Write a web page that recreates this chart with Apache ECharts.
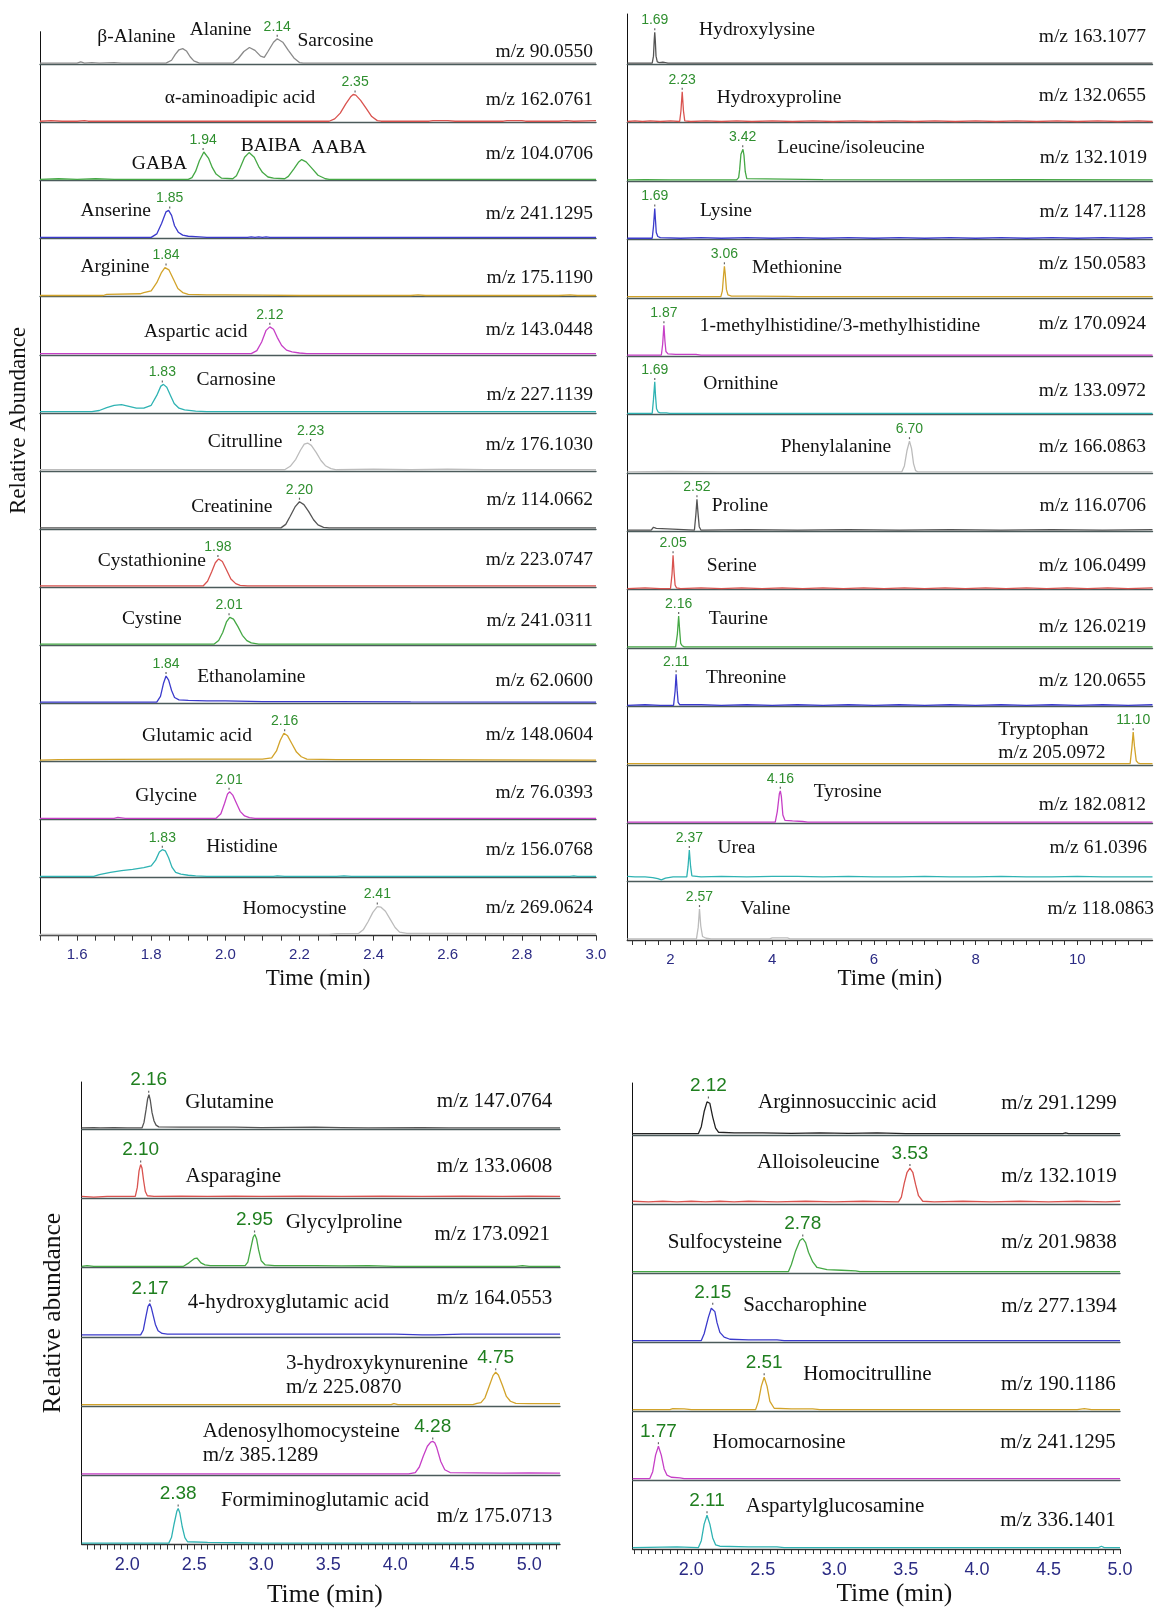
<!DOCTYPE html>
<html><head><meta charset="utf-8">
<script src="https://cdn.jsdelivr.net/npm/echarts@6/dist/echarts.min.js"></script>
<style>html,body{margin:0;padding:0;background:#fff}#c{width:1157px;height:1609px}</style>
</head><body><div id="c"></div>
<script>
// ================= DATA =================
// ---- Panel A (time 1.5 - 3.0 min) ----
const namesA = [['β-Alanine','Alanine','Sarcosine'],['α-aminoadipic acid'],['GABA','BAIBA','AABA'],['Anserine'],['Arginine'],['Aspartic acid'],['Carnosine'],['Citrulline'],['Creatinine'],['Cystathionine'],['Cystine'],['Ethanolamine'],['Glutamic acid'],['Glycine'],['Histidine'],['Homocystine']];
const mzA = ['m/z 90.0550','m/z 162.0761','m/z 104.0706','m/z 241.1295','m/z 175.1190','m/z 143.0448','m/z 227.1139','m/z 176.1030','m/z 114.0662','m/z 223.0747','m/z 241.0311','m/z 62.0600','m/z 148.0604','m/z 76.0393','m/z 156.0768','m/z 269.0624'];
const rtA = [[2.14],[2.35],[1.94],[1.85],[1.84],[2.12],[1.83],[2.23],[2.20],[1.98],[2.01],[1.84],[2.16],[2.01],[1.83],[2.41]];
const tracesA = [
 [[1.5,0],[1.6,0],[1.61,2],[1.62,0],[1.64,1],[1.66,0],[1.7,1],[1.72,0],[1.84,0],[1.855,5],[1.865,15],[1.875,23],[1.885,25],[1.895,21],[1.905,11],[1.915,4],[1.93,0],[2.02,0],[2.035,8],[2.05,20],[2.065,27],[2.08,22],[2.095,12],[2.105,10],[2.115,20],[2.13,36],[2.14,42],[2.155,36],[2.17,22],[2.185,9],[2.2,1],[2.21,0],[3.0,0]],
 [[1.5,0],[1.53,1],[1.56,0],[1.6,0],[1.62,1],[1.63,0],[2.28,0],[2.295,4],[2.31,14],[2.325,30],[2.338,42],[2.345,46],[2.352,45],[2.365,36],[2.38,22],[2.395,8],[2.41,1],[2.42,0],[2.55,0],[2.56,1],[2.6,1],[2.62,0],[2.75,0],[2.76,1],[2.8,1],[2.81,0],[2.9,0],[2.92,1],[2.94,0],[3.0,1]],
 [[1.5,0],[1.55,1],[1.6,0],[1.65,1],[1.7,0],[1.9,0],[1.91,3],[1.92,14],[1.93,32],[1.942,47],[1.955,36],[1.965,20],[1.975,9],[1.99,2],[2.02,1],[2.03,6],[2.04,20],[2.052,38],[2.064,46],[2.078,38],[2.09,22],[2.1,12],[2.115,4],[2.13,2],[2.16,1],[2.17,5],[2.185,18],[2.198,30],[2.206,34],[2.218,30],[2.235,18],[2.25,7],[2.27,1],[2.28,0],[3.0,0]],
 [[1.5,0],[1.8,0],[1.815,6],[1.828,24],[1.84,44],[1.847,46.5],[1.855,38],[1.863,20],[1.873,9],[1.885,4],[1.9,2],[1.93,1],[1.95,0],[2.06,0],[2.07,1],[2.08,0],[2.09,1],[2.1,0],[2.11,1],[2.12,0],[3.0,0]],
 [[1.5,0],[1.67,0],[1.68,2],[1.77,3],[1.78,5],[1.8,8],[1.815,22],[1.828,40],[1.837,48],[1.848,44],[1.86,28],[1.872,12],[1.885,5],[1.9,2],[1.95,1],[2.0,1],[2.1,0.5],[2.2,0],[2.5,0],[2.52,1],[2.54,0],[2.9,0],[2.93,1],[2.95,0],[3.0,0]],
 [[1.5,0],[2.07,0],[2.085,5],[2.098,20],[2.11,40],[2.12,46],[2.13,42],[2.14,28],[2.152,14],[2.165,6],[2.18,3],[2.2,1],[2.22,0],[3.0,0]],
 [[1.5,0],[1.64,0],[1.66,2],[1.68,7],[1.70,11],[1.72,12],[1.74,9],[1.76,6],[1.78,6],[1.8,11],[1.815,28],[1.826,44],[1.833,47],[1.842,42],[1.852,28],[1.862,14],[1.875,6],[1.89,3],[1.92,1],[1.95,0],[3.0,0]],
 [[1.5,0],[2.16,0],[2.175,6],[2.19,18],[2.203,34],[2.213,44],[2.222,46],[2.232,42],[2.245,30],[2.258,16],[2.27,7],[2.285,2],[2.3,0],[2.4,1],[2.5,0],[2.6,1],[2.7,0],[3.0,0]],
 [[1.5,0],[2.15,0],[2.163,6],[2.175,20],[2.188,36],[2.2,45],[2.212,40],[2.225,28],[2.238,14],[2.25,5],[2.265,1],[2.28,0],[3.0,0]],
 [[1.5,0],[1.94,0],[1.952,8],[1.963,24],[1.973,40],[1.982,46.5],[1.992,42],[2.003,28],[2.015,12],[2.028,4],[2.04,1],[2.06,0],[3.0,0]],
 [[1.5,0],[1.97,0],[1.982,6],[1.993,20],[2.003,38],[2.012,46],[2.022,43],[2.034,30],[2.046,15],[2.058,6],[2.07,2],[2.09,0],[3.0,0]],
 [[1.5,0],[1.815,0],[1.825,10],[1.833,32],[1.84,45],[1.847,38],[1.855,20],[1.863,8],[1.875,4],[1.9,3],[1.95,2],[2.0,2],[2.1,1],[2.3,1],[2.5,0.5],[3.0,0]],
 [[1.5,0],[1.55,1],[1.7,1.5],[1.9,2],[2.0,2],[2.1,2],[2.125,4],[2.138,16],[2.148,34],[2.158,46.5],[2.168,42],[2.18,28],[2.192,14],[2.205,6],[2.22,2],[2.3,1],[2.5,1],[2.7,0.5],[3.0,0]],
 [[1.5,0],[1.7,0],[1.71,1.5],[1.73,0],[1.975,0],[1.988,8],[1.998,26],[2.006,42],[2.012,45.6],[2.02,40],[2.03,26],[2.04,12],[2.052,4],[2.065,1],[2.08,0],[3.0,0]],
 [[1.5,0],[1.645,0],[1.66,3],[1.69,7],[1.72,10],[1.75,12],[1.78,15],[1.8,18],[1.812,28],[1.822,42],[1.83,46],[1.838,44],[1.847,32],[1.856,16],[1.866,7],[1.88,4],[1.9,2],[1.92,1],[1.95,0],[2.13,0],[2.14,1],[2.16,0],[2.3,0],[2.32,1],[2.34,0],[2.93,0],[2.94,1],[2.95,0],[3.0,0]],
 [[1.5,0],[2.28,0],[2.3,1.5],[2.36,2],[2.372,8],[2.385,22],[2.398,38],[2.41,48],[2.42,47],[2.432,40],[2.445,26],[2.458,12],[2.47,4],[2.49,2],[2.6,2],[2.8,1.5],[3.0,1]]
];
const ticksA = [1.6,1.8,2.0,2.2,2.4,2.6,2.8,3.0];

// ---- Panel B (time 1.15 - 11.48 min) ----
const namesB = [['Hydroxylysine'],['Hydroxyproline'],['Leucine/isoleucine'],['Lysine'],['Methionine'],['1-methylhistidine/3-methylhistidine'],['Ornithine'],['Phenylalanine'],['Proline'],['Serine'],['Taurine'],['Threonine'],['Tryptophan'],['Tyrosine'],['Urea'],['Valine']];
const mzB = ['m/z 163.1077','m/z 132.0655','m/z 132.1019','m/z 147.1128','m/z 150.0583','m/z 170.0924','m/z 133.0972','m/z 166.0863','m/z 116.0706','m/z 106.0499','m/z 126.0219','m/z 120.0655','m/z 205.0972','m/z 182.0812','m/z 61.0396','m/z 118.0863'];
const rtB = [[1.69],[2.23],[3.42],[1.69],[3.06],[1.87],[1.69],[6.70],[2.52],[2.05],[2.16],[2.11],[11.10],[4.16],[2.37],[2.57]];
const tracesB = [
 [[1.15,0],[1.64,0],[1.665,12],[1.68,40],[1.69,53],[1.7,40],[1.715,12],[1.74,2],[1.78,1],[1.85,1.5],[1.9,1],[1.95,0],[11.48,0]],
 [[1.15,0],[1.3,1],[1.45,0],[1.6,1],[1.8,0],[2.0,1],[2.18,0],[2.205,18],[2.23,51],[2.255,18],[2.28,1],[2.4,0],[2.7,1],[3.0,0],[3.3,1],[3.6,0],[4.0,1],[4.4,0],[4.8,1],[5.2,0],[5.6,1],[6.0,0],[6.4,1],[6.8,0],[7.2,1],[7.6,0],[8.0,1],[8.4,0],[8.8,1],[9.2,0],[9.6,1],[10.0,0],[10.4,1],[10.8,0],[11.2,1],[11.48,0]],
 [[1.15,0],[1.5,0.5],[2.0,0],[3.3,0],[3.34,4],[3.36,18],[3.385,44],[3.405,42],[3.425,52.5],[3.445,42],[3.47,14],[3.5,2],[3.53,0],[5,0.5],[7,0],[9,0.5],[11.48,0]],
 [[1.15,0],[1.64,0],[1.665,20],[1.69,51],[1.705,30],[1.72,10],[1.75,3],[1.8,1],[2.2,0],[2.6,1],[3.0,0],[3.5,1],[4.0,0],[4.5,1],[5.0,0],[5.5,1],[6.0,0],[6.5,1],[7.0,0],[7.5,1],[8.0,0],[8.5,1],[9.0,0],[9.5,1],[10.0,0],[10.5,1],[11.0,0],[11.48,1]],
 [[1.15,0],[2.99,0],[3.02,10],[3.045,38],[3.06,52],[3.075,40],[3.1,12],[3.13,3],[3.2,1],[3.6,1],[4.3,0.5],[4.5,0],[11.48,0]],
 [[1.15,0],[1.82,0],[1.845,18],[1.87,51],[1.89,24],[1.91,6],[1.95,2],[2.1,1],[2.5,1],[2.6,0],[10.5,0],[10.52,1.5],[10.54,0],[11.48,0]],
 [[1.15,0],[1.64,0],[1.665,24],[1.69,54],[1.705,30],[1.725,8],[1.76,2],[1.8,1],[1.92,1],[1.95,2],[1.98,0],[11.48,0]],
 [[1.15,0],[2,0.5],[3,0],[6.55,0],[6.6,10],[6.65,36],[6.7,52.5],[6.74,40],[6.78,14],[6.82,2],[6.86,0],[11.48,0]],
 [[1.15,0],[1.62,0],[1.665,5],[1.69,7],[1.72,3],[1.75,0],[2.47,0],[2.5,28],[2.52,53],[2.54,30],[2.565,6],[2.6,0],[3.5,1],[4.5,0],[5.5,1],[6.5,0],[7.5,1],[8.5,0],[9.5,1],[10.5,0],[11.48,1]],
 [[1.15,0],[1.5,1],[1.8,0],[2.0,0],[2.03,25],[2.05,57],[2.07,28],[2.09,6],[2.12,1],[2.2,0],[2.6,1],[3.0,0],[3.4,1],[3.8,0],[4.2,1],[4.6,0],[5.0,1],[5.4,0],[5.8,1],[6.2,0],[6.6,1],[7.0,0],[7.4,1],[7.8,0],[8.2,1],[8.6,0],[9.0,1],[9.4,0],[9.8,1],[10.2,0],[10.6,1],[11.0,0],[11.48,1]],
 [[1.15,0],[2.1,0],[2.135,22],[2.16,53],[2.18,28],[2.2,6],[2.23,2],[2.27,0],[11.48,0]],
 [[1.15,0],[1.5,1],[1.8,0],[2.06,0],[2.09,24],[2.11,53],[2.13,26],[2.15,5],[2.18,1],[2.6,1],[3.0,0],[3.5,1],[4.0,0],[4.5,1],[5.0,0],[5.5,1],[6.0,0],[6.5,1],[7.0,0],[7.5,1],[8.0,0],[8.5,1],[9.0,0],[9.5,1],[10.0,0],[10.5,1],[11.0,0],[11.48,1]],
 [[1.15,0],[11.04,0],[11.075,28],[11.1,54],[11.125,30],[11.16,5],[11.2,1],[11.24,0],[11.48,0]],
 [[1.15,0],[4.06,0],[4.1,18],[4.14,48],[4.16,53.5],[4.18,44],[4.21,12],[4.25,3],[4.4,2],[4.6,1],[4.7,0],[11.48,0]],
 [[1.15,7],[1.3,6],[1.5,6],[1.65,5],[1.75,3],[1.82,1],[1.9,4],[2.05,6],[2.2,6],[2.32,6],[2.345,24],[2.37,52],[2.395,24],[2.42,8],[2.45,7],[2.6,6],[3.0,7],[3.5,6],[4.0,7],[4.5,7],[5.0,6],[5.5,7],[6.0,6],[6.5,6],[7.0,7],[7.5,6],[8.0,6],[8.5,7],[9.0,6],[9.5,6],[10.0,7],[10.5,6],[11.0,6],[11.48,6]],
 [[1.15,0],[2.51,0],[2.545,20],[2.57,51],[2.595,22],[2.63,4],[2.7,1],[2.8,0],[3.95,0],[4.0,1.5],[4.3,1.5],[4.35,0],[11.48,0]]
];
const ticksB = [2,4,6,8,10];

// ---- Panel C (time 1.66 - 5.23 min) ----
const namesC = [['Glutamine'],['Asparagine'],['Glycylproline'],['4-hydroxyglutamic acid'],['3-hydroxykynurenine'],['Adenosylhomocysteine'],['Formiminoglutamic acid']];
const mzC = ['m/z 147.0764','m/z 133.0608','m/z 173.0921','m/z 164.0553','m/z 225.0870','m/z 385.1289','m/z 175.0713'];
const rtC = [[2.16],[2.10],[2.95],[2.17],[4.75],[4.28],[2.38]];
const tracesC = [
 [[1.66,0],[1.75,0.5],[1.8,0],[1.9,0.5],[2.0,0],[2.11,0],[2.125,8],[2.14,26],[2.152,42],[2.162,48],[2.172,40],[2.185,22],[2.2,10],[2.215,4],[2.235,1.5],[2.4,1],[2.6,1],[2.8,1],[3.0,0.5],[3.4,1],[3.6,0.5],[3.8,0],[4.2,0.5],[4.4,0],[5.23,0]],
 [[1.66,1],[1.75,0],[1.85,1],[1.95,1],[2.06,1],[2.075,14],[2.088,38],[2.1,47],[2.11,42],[2.122,24],[2.135,8],[2.15,2],[2.2,1],[2.4,1.5],[2.6,1],[2.8,1.5],[3.0,1],[3.3,1.5],[3.6,1],[3.9,1.5],[4.2,1],[4.5,1.5],[4.8,1],[5.0,1.5],[5.23,1]],
 [[1.66,0],[1.7,1],[1.75,0],[2.42,0],[2.46,5],[2.5,11],[2.52,12],[2.55,5],[2.58,2],[2.62,1],[2.88,1],[2.9,6],[2.92,24],[2.94,42],[2.952,46],[2.965,40],[2.98,24],[3.0,8],[3.03,2],[3.1,1],[3.4,1],[3.6,0.5],[3.8,1],[4.0,0],[4.9,0],[4.95,1],[5.0,0],[5.23,0]],
 [[1.66,1],[1.8,1],[2.0,1],[2.1,1],[2.12,8],[2.14,28],[2.155,42],[2.168,46],[2.18,40],[2.195,28],[2.21,16],[2.23,7],[2.26,3],[2.3,2],[2.5,2],[3.0,2],[3.5,2],[4.0,2],[4.2,1],[4.3,1],[4.5,2],[5.0,2],[5.23,2]],
 [[1.66,0],[3.97,0],[3.99,1.5],[4.02,0],[4.58,0],[4.61,2],[4.64,3],[4.67,10],[4.7,26],[4.73,42],[4.75,47],[4.77,43],[4.8,28],[4.83,12],[4.86,5],[4.9,2],[5.0,1.5],[5.23,1.5]],
 [[1.66,0],[4.1,0],[4.15,2],[4.18,10],[4.21,26],[4.24,40],[4.265,46],[4.28,47],[4.295,45],[4.31,38],[4.34,18],[4.37,6],[4.41,2],[4.6,1.5],[4.8,1],[5.0,1.5],[5.23,1]],
 [[1.66,0],[2.31,0],[2.33,8],[2.35,28],[2.37,46],[2.38,50],[2.392,44],[2.41,24],[2.43,8],[2.45,2],[2.6,1],[2.8,0.5],[3.0,0],[5.23,0]]
];
const ticksC = [2.0,2.5,3.0,3.5,4.0,4.5,5.0];

// ---- Panel D (time 1.59 - 5.0 min) ----
const namesD = [['Arginnosuccinic acid'],['Alloisoleucine'],['Sulfocysteine'],['Saccharophine'],['Homocitrulline'],['Homocarnosine'],['Aspartylglucosamine']];
const mzD = ['m/z 291.1299','m/z 132.1019','m/z 201.9838','m/z 277.1394','m/z 190.1186','m/z 241.1295','m/z 336.1401'];
const rtD = [[2.12],[3.53],[2.78],[2.15],[2.51],[1.77],[2.11]];
const tracesD = [
 [[1.59,0],[2.05,0],[2.07,10],[2.09,32],[2.11,46],[2.12,48],[2.13,44],[2.15,24],[2.17,8],[2.19,2],[2.3,1],[2.5,1],[2.7,0.5],[2.9,1],[3.1,0.5],[3.3,1],[3.5,0],[4.6,0],[4.62,1],[4.64,0],[5.0,0]],
 [[1.59,2],[1.7,1],[1.8,2],[1.9,1],[2.0,2],[2.1,1],[2.2,2],[2.3,1],[2.4,2],[2.6,1],[2.8,2],[3.0,1],[3.2,2],[3.45,1],[3.47,8],[3.49,28],[3.51,44],[3.53,50],[3.55,44],[3.57,26],[3.59,10],[3.62,2],[3.7,1],[3.9,2],[4.1,1],[4.3,2],[4.5,1],[4.7,2],[4.9,1],[5.0,2]],
 [[1.59,0],[2.68,0],[2.7,10],[2.73,30],[2.76,45],[2.78,48],[2.8,42],[2.82,28],[2.85,14],[2.88,6],[2.95,3],[3.05,2],[3.15,1],[3.18,0],[5.0,0]],
 [[1.59,0],[2.07,0],[2.09,10],[2.12,34],[2.14,47],[2.15,49],[2.165,42],[2.18,26],[2.2,12],[2.23,5],[2.27,2],[2.4,1],[2.6,1],[2.65,0],[5.0,0]],
 [[1.59,0],[1.85,0],[1.87,1.5],[1.95,1],[2.0,0],[2.45,0],[2.47,12],[2.49,34],[2.51,47],[2.53,34],[2.55,12],[2.58,2],[2.7,1],[2.85,1],[2.9,0],[4.7,0],[4.75,1.5],[4.8,0],[5.0,0]],
 [[1.59,0],[1.71,0],[1.73,10],[1.75,34],[1.77,47],[1.79,34],[1.81,14],[1.83,5],[1.86,2],[1.92,1],[1.95,0],[5.0,0]],
 [[1.59,0],[1.9,1],[2.05,0],[2.07,10],[2.09,34],[2.11,47],[2.13,34],[2.15,14],[2.17,4],[2.2,2],[2.4,1],[2.6,1],[2.65,0],[4.85,0],[4.87,2],[4.89,0],[5.0,0]]
];
const ticksD = [2.0,2.5,3.0,3.5,4.0,4.5,5.0];

// ================= STYLE / LAYOUT =================
const GRAY='#8a8a8a', RED='#d9534f', GREEN='#45a845', BLUE='#3b3bcc', GOLD='#d2a32a', MAG='#c63fc6', CYAN='#2fb3b3', LGRAY='#bcbcbc', DGRAY='#555555', BLACK='#222222';
const SERIF='"Liberation Serif","Times New Roman",serif';
const SANS='"Liberation Sans",Arial,sans-serif';

const panels = [
 { traces:tracesA, names:namesA, mz:mzA, rt:rtA, ticks:ticksA, fmt:v=>v.toFixed(1), minorStep:0.05, minorFrom:1.5, minorTo:3.0,
   colors:[GRAY,RED,GREEN,BLUE,GOLD,MAG,CYAN,LGRAY,DGRAY,RED,GREEN,BLUE,GOLD,MAG,CYAN,LGRAY],
   left:40, right:596, min:1.5, max:3.0, top:31.7, base0:64.3, step:58.09,
   nameFont:19.5, rtFont:14, rtColor:'#2f8f2f', tickFont:15, tickMargin:12, titleFont:23, titleGap:32, titlePad:[0,0,0,0], win:0.015,
   namePos:[[[136.4,36.9],[220.5,29.7],[335.4,41]],[[240,98]],[[159.5,164],[271,145.7],[339,147.7]],[[115.8,211]],[[115,267.3]],[[195.7,331.7]],[[236,379.5]],[[245,442]],[[231.8,506.7]],[[151.8,561]],[[151.8,618.5]],[[251.3,677]],[[197,735.4]],[[166,796]],[[242,847]],[[294.5,909]]],
   nameAlign:'center',
   mzPos:[[593,52.3],[593,100],[593,154],[593,214],[593,278.3],[593,330],[593,395],[593,445],[593,499.5],[593,560],[593,620.5],[593,681],[593,734.4],[593,793],[593,850],[593,908.3]],
   mzAlign:'right'
 },
 { traces:tracesB, names:namesB, mz:mzB, rt:rtB, ticks:ticksB, fmt:v=>String(v), minorStep:0.25, minorFrom:1.25, minorTo:11.25,
   colors:[DGRAY,RED,GREEN,BLUE,GOLD,MAG,CYAN,LGRAY,DGRAY,RED,GREEN,BLUE,GOLD,MAG,CYAN,LGRAY],
   left:627.3, right:1152.5, min:1.15, max:11.48, top:14, base0:64.3, step:58.38,
   nameFont:19.5, rtFont:14, rtColor:'#2f8f2f', tickFont:15, tickMargin:12, titleFont:23, titleGap:27, titlePad:[0,0,0,0], win:0.06,
   namePos:[[[757,30]],[[779,97.7]],[[851,147.7]],[[726,210.7]],[[797,268.3]],[[840,326]],[[740.7,384]],[[836,447]],[[740,506]],[[731.7,566]],[[738.3,619.3]],[[746,677.7]],[[998.3,730]],[[847.7,791.7]],[[736.4,848.3]],[[765.5,909]]],
   nameAlign:'center', nameAlignOverride:{12:'left'},
   mzPos:[[1146,37.3],[1146,96],[1147,157.7],[1146,212.3],[1146,263.7],[1146,324],[1146,390.7],[1146,446.7],[1146,506],[1146,566],[1146,627.3],[1146,680.7],[998.3,753.3],[1146,805],[1147,848.3],[1154,909]],
   mzAlign:'right', mzAlignOverride:{12:'left'}
 },
 { traces:tracesC, names:namesC, mz:mzC, rt:rtC, ticks:ticksC, fmt:v=>v.toFixed(1), minorStep:0.05, minorFrom:1.7, minorTo:5.2,
   colors:[DGRAY,RED,GREEN,BLUE,GOLD,MAG,CYAN],
   left:81.7, right:560, min:1.66, max:5.23, top:1082, base0:1129.3, step:69.2,
   nameFont:21, rtFont:19, rtColor:'#1f7f1f', tickFont:18, tickMargin:12, titleFont:25.5, titleGap:38, titlePad:[0,0,0,8], win:0.03,
   namePos:[[[229.5,1102.7]],[[233.3,1176.7]],[[344,1222.7]],[[288.3,1302.7]],[[286,1363.3]],[[202.7,1431.7]],[[325,1500]]],
   nameAlign:'center', nameAlignOverride:{4:'left',5:'left'},
   mzPos:[[552.3,1101.7],[552.3,1166.7],[550,1234.3],[552.3,1298.3],[286,1387.7],[202.7,1455],[552.3,1516]],
   mzAlign:'right', mzAlignOverride:{4:'left',5:'left'}
 },
 { traces:tracesD, names:namesD, mz:mzD, rt:rtD, ticks:ticksD, fmt:v=>v.toFixed(1), minorStep:0.05, minorFrom:1.6, minorTo:5.0,
   colors:[BLACK,RED,GREEN,BLUE,GOLD,MAG,CYAN],
   left:632.7, right:1120, min:1.59, max:5.0, top:1083, base0:1135, step:69,
   nameFont:21, rtFont:19, rtColor:'#1f7f1f', tickFont:18, tickMargin:12, titleFont:25.5, titleGap:32, titlePad:[0,0,0,36], win:0.03,
   namePos:[[[847.3,1102.7]],[[818.3,1162.3]],[[725,1242.7]],[[805,1305]],[[867.3,1374.3]],[[779,1442.7]],[[835,1506.7]]],
   nameAlign:'center',
   mzPos:[[1116.7,1103.3],[1116.7,1176.7],[1116.7,1242.7],[1116.7,1306.7],[1115.7,1384],[1115.7,1442.7],[1115.7,1520]],
   mzAlign:'right'
 }
];

// ================= BUILD =================
const grids=[], xAxes=[], yAxes=[], series=[], graphics=[];
function stepValues(a,b,s){const r=[];for(let k=0;a+k*s<=b+1e-9;k++) r.push(Math.round((a+k*s)*1000)/1000);return r;}
function apexY(data, rt, win){let best=0;for(const p of data){if(Math.abs(p[0]-rt)<=win && p[1]>best) best=p[1];}return best;}
function txt(x,y,text,size,family,align,color){
  graphics.push({type:'text', x:x, y:y, silent:true, z:100,
    style:{text:text, fontSize:size, fontFamily:family, fill:color||'#111', align:align, verticalAlign:'middle', textAlign:align, textVerticalAlign:'middle'}});
}

panels.forEach(p=>{
  const n=p.traces.length;
  const minor = stepValues(p.minorFrom,p.minorTo,p.minorStep);
  for(let i=0;i<n;i++){
    const base=p.base0+p.step*i;
    const top=i===0?p.top:base-p.step;
    const h=base-top;
    const last=i===n-1;
    const gi=grids.length;
    grids.push({left:p.left, top:top, width:p.right-p.left, height:h, containLabel:false, outerBoundsMode:'none'});
    xAxes.push({gridIndex:gi, type:'value', min:p.min, max:p.max,
      axisLine:{show:true, onZero:false, lineStyle:{color:last?'#333':'#4b5b5b', width:1.4}},
      axisTick:{show:last, customValues:minor, length:5, inside:false, lineStyle:{color:'#333', width:1}},
      axisLabel:{show:last, customValues:p.ticks, formatter:p.fmt, color:'#2b2b84', fontSize:p.tickFont, fontFamily:SANS, margin:p.tickMargin},
      splitLine:{show:false}, minorTick:{show:false},
      name:last?'Time (min)':'', nameLocation:'middle', nameGap:p.titleGap,
      nameTextStyle:{fontSize:p.titleFont, fontFamily:SERIF, color:'#111', padding:p.titlePad}
    });
    yAxes.push({gridIndex:gi, type:'value', min:-2, max:-2+h/p.step*100,
      axisLine:{show:true, onZero:false, lineStyle:{color:'#111', width:1}},
      axisTick:{show:false}, axisLabel:{show:false}, splitLine:{show:false}});
    const data=p.traces[i];
    series.push({type:'line', xAxisIndex:gi, yAxisIndex:gi, data:data, symbol:'none', showSymbol:false,
      silent:true, animation:false, z:5,
      lineStyle:{color:p.colors[i], width:1.3}, itemStyle:{color:p.colors[i]},
      markPoint:{animation:false, silent:true, symbol:'rect', symbolSize:[1.2,2], symbolOffset:[0,-3],
        itemStyle:{color:'#666'},
        label:{show:true, position:'top', distance:1, color:p.rtColor, fontSize:p.rtFont, fontFamily:SANS},
        data:p.rt[i].map(rt=>({coord:[rt, apexY(data, rt, p.win)], label:{formatter:rt.toFixed(2)}}))
      }
    });
    const al = (p.nameAlignOverride && p.nameAlignOverride[i]) || p.nameAlign;
    p.names[i].forEach((nm,k)=>{ const pos=p.namePos[i][k]; txt(pos[0],pos[1],nm,p.nameFont,SERIF,al); });
    const mal = (p.mzAlignOverride && p.mzAlignOverride[i]) || p.mzAlign;
    txt(p.mzPos[i][0], p.mzPos[i][1], p.mz[i], p.nameFont, SERIF, mal);
  }
});

graphics.push({type:'text', x:18.5, y:420.5, rotation:Math.PI/2, silent:true,
  style:{text:'Relative Abundance', fontSize:23, fontFamily:SERIF, fill:'#111', align:'center', verticalAlign:'middle', textAlign:'center', textVerticalAlign:'middle'}});
graphics.push({type:'text', x:53.3, y:1313, rotation:Math.PI/2, silent:true,
  style:{text:'Relative abundance', fontSize:25.5, fontFamily:SERIF, fill:'#111', align:'center', verticalAlign:'middle', textAlign:'center', textVerticalAlign:'middle'}});

const chart = echarts.init(document.getElementById('c'), null, {renderer:'canvas', width:1157, height:1609});
chart.setOption({
  animation:false,
  backgroundColor:'#ffffff',
  textStyle:{fontFamily:SERIF},
  grid:grids, xAxis:xAxes, yAxis:yAxes, series:series, graphic:graphics
});
</script>
</body></html>
